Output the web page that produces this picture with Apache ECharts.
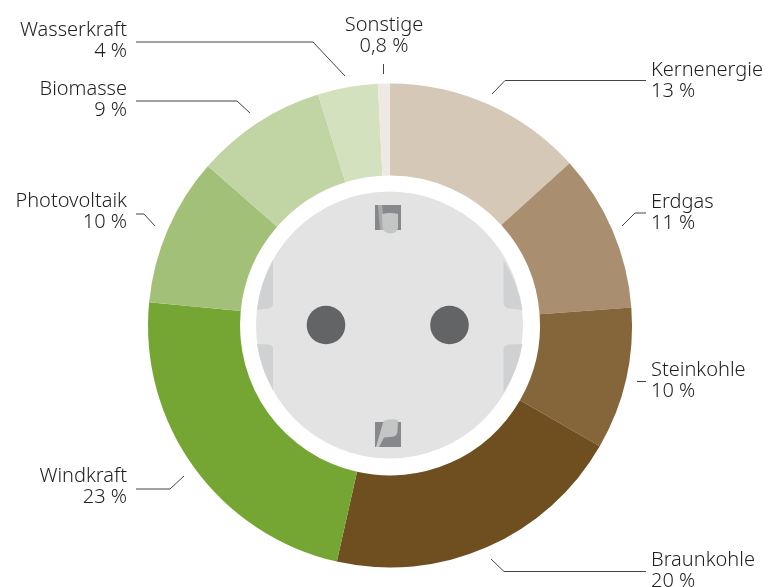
<!DOCTYPE html>
<html><head><meta charset="utf-8">
<style>html,body{margin:0;padding:0;background:#fff}#c{width:770px;height:587px}</style>
<script src="https://cdn.jsdelivr.net/npm/echarts@6/dist/echarts.min.js"></script>
</head><body><div id="c"></div>
<script>
const categories = ['Kernenergie','Erdgas','Steinkohle','Braunkohle','Windkraft','Photovoltaik','Biomasse','Wasserkraft','Sonstige'];
const shares = [13.3,10.5,9.5,20.2,23,9.9,8.75,4,0.8];
const valueLabels = ['13 %','11 %','10 %','20 %','23 %','10 %','9 %','4 %','0,8 %'];
const colors = ['#d6c8b6','#a98f6f','#85653a','#6f4e1f','#75a532','#a2c078','#c1d4a3','#d4e1bf','#eee9e3'];
const labelAnchors = [[651,80,'left'],[651,212,'left'],[651,380,'left'],[651,570,'left'],[127,486,'right'],[127,211,'right'],[127,99,'right'],[127,40,'right'],[384,35,'center']];
const leaderLines = [
 [[646,80.5],[505,80.5],[492,94]],
 [[646,213],[635,213],[622,226]],
 [[646,381.5],[641,381.5],[637,381.5]],
 [[646,571.5],[504,571.5],[491,559]],
 [[136,489],[170,489],[184,476]],
 [[136,214],[144,214],[155,226]],
 [[136,101],[237,101],[250,113]],
 [[136,42],[313,42],[345,76]],
 [[383.5,64],[383.5,69],[383.5,74]]
];
const fontFamily = 'Noto Sans';
const chart = echarts.init(document.getElementById('c'));
let shapeCount = 0;
const path = (d, fill) => {
 const type = 'socketShape' + (shapeCount++);
 echarts.graphic.registerShape(type, echarts.graphic.extendPath(d, {}));
 return {type, style:{fill}, silent:true};
};
chart.setOption({
 animation:false,
 backgroundColor:'#fff',
 series:[{
  type:'pie', center:[390,325.5], radius:[150,242], startAngle:90, clockwise:true,
  avoidLabelOverlap:false, silent:true,
  data:categories.map((n,i)=>({name:n,value:shares[i],itemStyle:{color:colors[i]},
    label:{formatter:n+'\n'+valueLabels[i]}})),
  label:{show:true,position:'outside',color:'#1f1f1f',fontFamily,fontSize:20,fontWeight:300,lineHeight:21.5},
  labelLine:{show:true,length:10,length2:10,smooth:false,lineStyle:{color:'#444',width:1}},
  labelLayout:p=>{
   const i=p.dataIndex,a=labelAnchors[i];
   return {x:a[0],y:a[1]+1,align:a[2],verticalAlign:'middle',labelLinePoints:leaderLines[i]};
  }
 }],
 graphic:{elements:[
  {type:'circle',shape:{cx:389.5,cy:325,r:133.5},style:{fill:'#e3e3e3'},silent:true},
  path('M273 260L273 303Q273 308 268 308.5L257 310A133.5 133.5 0 0 1 273 260Z','#d0d1d3'),
  path('M273 348Q273 345 268 344.5L257 344A133.5 133.5 0 0 0 273 390Z','#d0d1d3'),
  path('M503.5 260L503.5 303Q504 308 509 308.5L522.5 310A133.5 133.5 0 0 0 503.5 260Z','#d0d1d3'),
  path('M503.5 348Q504 345 509 344.5L522.5 344A133.5 133.5 0 0 1 503.5 393Z','#d0d1d3'),
  {type:'circle',shape:{cx:326,cy:325,r:19.3},style:{fill:'#636466'},silent:true},
  {type:'circle',shape:{cx:449.5,cy:325,r:19.3},style:{fill:'#636466'},silent:true},
  path('M375 205H401V230H375Z','#87888b'),
  path('M378 205H382L385 230H380Z','#a9aaac'),
  path('M382 214Q390 212 398 214L398 228Q397 233 390 233.5Q384 233 382.5 228Z','#c4c5c5'),
  path('M375 422H401V447H375Z','#87888b'),
  path('M383.5 421Q390 418 398 420L397.5 432Q397 437 390 437L384 437.5L379 447H376Z','#c4c5c5')
 ]}
});
</script></body></html>
